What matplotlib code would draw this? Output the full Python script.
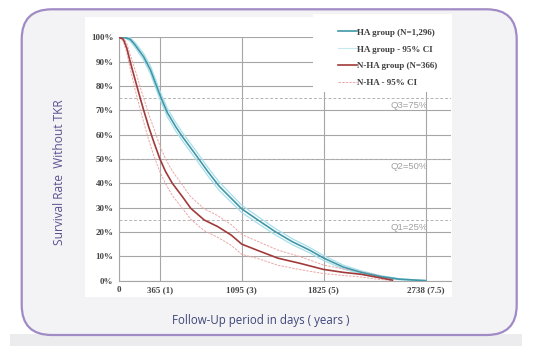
import matplotlib
matplotlib.use("Agg")
import matplotlib.pyplot as plt
from matplotlib.patches import FancyBboxPatch, Rectangle

# survival curves (days, % without TKR)
ha_days = [0, 54, 100, 145, 220, 281, 365, 432, 507, 567, 687, 793, 894, 1095,
           1240, 1395, 1546, 1698, 1825, 2000, 2160, 2330, 2500, 2650, 2738]
ha_surv = [100, 99.9, 99.2, 96.8, 92.0, 86.6, 76.3, 69.0, 63.2, 59.1, 51.6, 44.8, 38.8, 29.5,
           24.9, 20.1, 16.0, 12.6, 9.3, 5.6, 3.4, 1.7, 0.6, 0.2, 0]
ha_upper = [100, 100, 99.8, 97.8, 93.3, 88.2, 78.0, 70.7, 64.9, 60.8, 53.3, 46.5, 40.5, 31.0,
            26.3, 21.4, 17.2, 13.7, 10.3, 6.4, 4.0, 2.1, 0.8, 0.3, 0]
ha_lower = [100, 99.6, 98.5, 95.8, 90.7, 85.0, 74.6, 67.3, 61.5, 57.4, 49.9, 43.1, 37.1, 28.0,
            23.5, 18.8, 14.8, 11.5, 8.3, 4.8, 2.8, 1.3, 0.4, 0.1, 0]

nha_days = [0, 39, 70, 100, 145, 190, 220, 265, 310, 365, 416, 476, 566, 641, 761, 881,
            1002, 1095, 1244, 1420, 1607, 1825, 2000, 2160, 2300, 2440]
nha_surv = [100, 99.2, 95.5, 90.0, 82.4, 74.9, 70.1, 63.2, 57.1, 50.0, 44.8, 40.0, 34.5, 29.7,
            24.9, 22.2, 18.7, 15.0, 12.3, 9.2, 7.2, 4.6, 3.4, 2.6, 1.4, 0.2]
nha_upper = [100, 99.8, 97.5, 92.8, 86.5, 79.5, 75.0, 68.5, 62.7, 55.3, 50.0, 45.0, 39.3, 34.4,
             29.5, 26.7, 23.0, 19.0, 16.0, 12.5, 10.0, 6.4, 4.8, 3.7, 2.3, 0.6]
nha_lower = [100, 98.4, 93.5, 87.2, 78.3, 70.3, 65.2, 57.9, 51.5, 44.7, 39.8, 35.0, 29.7, 25.2,
             20.5, 17.8, 14.5, 10.8, 9.0, 6.3, 4.6, 2.9, 2.1, 1.5, 0.6, 0.0]

x_ticks = [0, 365, 1095, 1825, 2738]
x_labels = ["0", "365 (1)", "1095 (3)", "1825 (5)", "2738 (7.5)"]
y_ticks = list(range(0, 101, 10))
quartiles = [75, 50, 25]
quartile_labels = ["Q3=75%", "Q2=50%", "Q1=25%"]

fig = plt.figure(figsize=(5.45, 3.54), dpi=100)
fig.patch.set_facecolor("white")

# slide background: gray band, rounded purple frame, white plot panel (inches)
fig.patches.append(Rectangle((0.10, 0.08), 5.12, 0.12, transform=fig.dpi_scale_trans,
                             facecolor="#ececee", edgecolor="none", zorder=-3))
fig.patches.append(FancyBboxPatch((0.217, 0.19), 4.95, 3.257,
                                  boxstyle="round,pad=0,rounding_size=0.3",
                                  transform=fig.dpi_scale_trans, facecolor="#f3f3f5",
                                  edgecolor="#a08bc5", linewidth=1.6, zorder=-2))
fig.patches.append(Rectangle((0.85, 0.57), 3.67, 2.80, transform=fig.dpi_scale_trans,
                             facecolor="white", edgecolor="none", zorder=-1))

ax = fig.add_axes([0.2183, 0.2073, 0.6087, 0.6873])
ax.set_facecolor("none")
ax.set_xlim(0, 2960)
ax.set_ylim(0, 100)

ax.set_axisbelow(True)
ax.grid(True, color="#a6a6a6", linewidth=0.8)
for q in quartiles:
    ax.axhline(q, color="#b4b4b4", linewidth=0.7, linestyle=(0, (3, 2)), zorder=1)

# white block under the legend hides the grid
ax.add_patch(Rectangle((0.585, 0.776), 0.42, 0.32, transform=ax.transAxes,
                       facecolor="white", edgecolor="none", zorder=2, clip_on=False))

ax.plot(ha_days, ha_upper, color="#a8dfea", linewidth=0.9, zorder=3)
ax.plot(ha_days, ha_lower, color="#a8dfea", linewidth=0.9, zorder=3)
ax.plot(nha_days, nha_upper, color="#eba8a8", linewidth=0.7, linestyle=(0, (2.5, 1.2)), zorder=3)
ax.plot(nha_days, nha_lower, color="#eba8a8", linewidth=0.7, linestyle=(0, (2.5, 1.2)), zorder=3)
h1, = ax.plot(ha_days, ha_surv, color="#3f97a8", linewidth=1.2, zorder=4)
h3, = ax.plot(nha_days, nha_surv, color="#a23a3a", linewidth=1.2, zorder=4)
h2, = ax.plot([], [], color="#c6e8ef", linewidth=0.8)
h4, = ax.plot([], [], color="#eba8a8", linewidth=0.7, linestyle=(0, (2.5, 1.2)))

for q, lab in zip(quartiles, quartile_labels):
    ax.text(2590, q - 1.2, lab, ha="center", va="top", fontsize=6.8,
            family="Liberation Sans", color="#a0a0a0", zorder=5)

ax.set_xticks(x_ticks)
ax.set_xticklabels(x_labels)
ax.set_yticks(y_ticks)
ax.set_yticklabels([f"{v}%" for v in y_ticks])
ax.tick_params(length=0, labelsize=6.5, colors="#454545", pad=4)
for lab in ax.get_xticklabels() + ax.get_yticklabels():
    lab.set_family("Liberation Serif")
    lab.set_fontweight("bold")
for s in ["top", "right"]:
    ax.spines[s].set_visible(False)
for s in ["left", "bottom"]:
    ax.spines[s].set_color("#a6a6a6")
    ax.spines[s].set_linewidth(0.8)

leg = ax.legend([h1, h2, h3, h4],
                ["HA group (N=1,296)", "HA group - 95% CI", "N-HA group (N=366)", "N-HA - 95% CI"],
                loc="upper left", bbox_to_anchor=(0.66, 1.037), frameon=False,
                borderaxespad=0, borderpad=0, handlelength=2.1, handletextpad=0.05,
                labelspacing=0.95, prop={"family": "Liberation Serif", "size": 6.5, "weight": "bold"})
for t in leg.get_texts():
    t.set_color("#404040")

fig.text(0.11, 0.514, "Survival Rate  Without TKR", rotation=90, ha="center", va="center",
         fontsize=8.6, family="Open Sans", color="#5b5191")
fig.text(0.478, 0.096, "Follow-Up period in days ( years )", ha="center", va="center",
         fontsize=8.3, family="Open Sans", color="#3e4679")

fig.savefig("out.png", dpi=100)
